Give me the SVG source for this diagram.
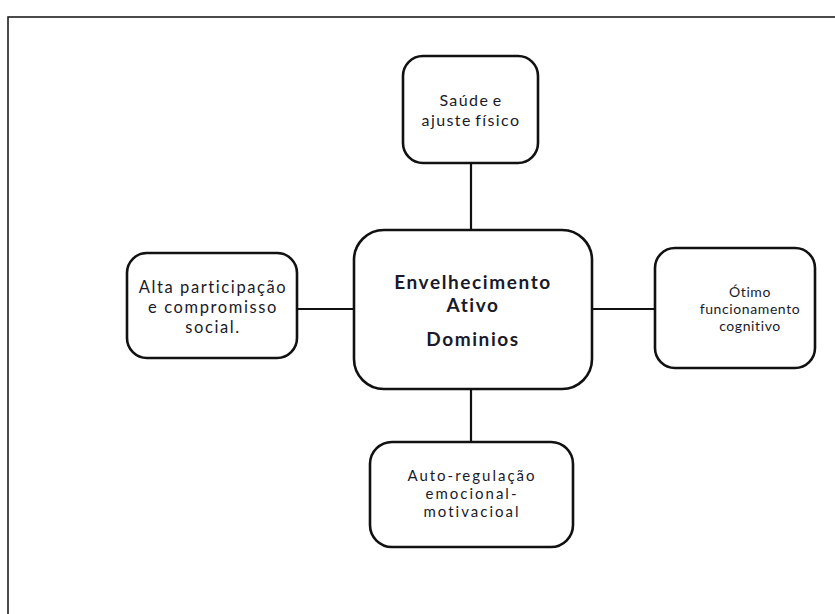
<svg xmlns="http://www.w3.org/2000/svg" width="835" height="614" viewBox="0 0 835 614">
<style>
.box{fill:#fff;stroke:#111;stroke-width:2.6}
.t{font-family:Lato,"Open Sans","Liberation Sans",sans-serif;fill:#1a1a2a;text-anchor:middle}
.tp{font-size:16px;letter-spacing:1.4px;word-spacing:-2px}
.lf{font-size:16.5px;letter-spacing:1.6px}
.rt{font-size:14px;letter-spacing:0.6px}
.bt{font-size:15px;letter-spacing:2px}
.b{font-size:19px;font-weight:bold;letter-spacing:1.6px}
.c{stroke:#111;stroke-width:2.2;fill:none}
</style>
<rect x="0" y="0" width="835" height="614" fill="#fff"/>
<path d="M8 640 V17 H840" fill="none" stroke="#111" stroke-width="1.5"/>
<g id="connectors">
<line class="c" x1="471" y1="163" x2="471" y2="230"/>
<line class="c" x1="471" y1="389" x2="471" y2="442"/>
<line class="c" x1="297" y1="309" x2="354" y2="309"/>
<line class="c" x1="592" y1="309" x2="655" y2="309"/>
</g>
<g id="top">
<rect class="box" x="403" y="56" width="135" height="107" rx="20"/>
<text class="t tp" x="471" y="106">Saúde e</text>
<text class="t tp" x="471" y="126">ajuste físico</text>
</g>
<g id="left">
<rect class="box" x="127" y="253" width="170" height="105" rx="20"/>
<text class="t lf" x="213" y="293">Alta participação</text>
<text class="t lf" x="213" y="313">e compromisso</text>
<text class="t lf" x="213" y="333">social.</text>
</g>
<g id="center">
<rect class="box" x="354" y="230" width="238" height="159" rx="30"/>
<text class="t b" x="473" y="289">Envelhecimento</text>
<text class="t b" x="473" y="312">Ativo</text>
<text class="t b" x="473" y="346">Dominios</text>
</g>
<g id="right">
<rect class="box" x="655" y="248" width="160" height="120" rx="20"/>
<text class="t rt" x="750" y="297">Ótimo</text>
<text class="t rt" x="750" y="314">funcionamento</text>
<text class="t rt" x="750" y="331">cognitivo</text>
</g>
<g id="bottom">
<rect class="box" x="370" y="442" width="203" height="105" rx="22"/>
<text class="t bt" x="472" y="481">Auto-regulação</text>
<text class="t bt" x="472" y="499">emocional-</text>
<text class="t bt" x="472" y="517">motivacioal</text>
</g>
</svg>
